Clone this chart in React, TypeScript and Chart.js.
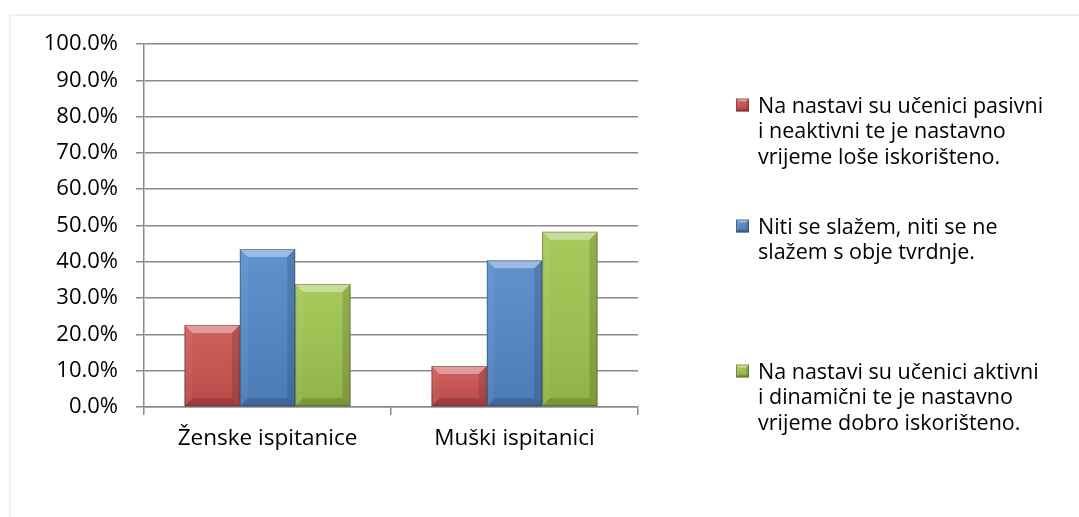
import React, { useEffect, useRef } from "react";
import { Chart, registerables } from "chart.js";

Chart.register(...registerables);

// ---- data ----
const categories = ["Ženske ispitanice", "Muški ispitanici"];
const seriesNames = [
  "Na nastavi su učenici pasivni i neaktivni te je nastavno vrijeme loše iskorišteno.",
  "Niti se slažem, niti se ne slažem s obje tvrdnje.",
  "Na nastavi su učenici aktivni i dinamični te je nastavno vrijeme dobro iskorišteno.",
];
const pasivniValues = [22.6, 11.3];
const neutralniValues = [43.5, 40.4];
const aktivniValues = [33.9, 48.3];
const legendLines = [
  ["Na nastavi su učenici pasivni", "i neaktivni te je nastavno", "vrijeme loše iskorišteno."],
  ["Niti se slažem, niti se ne", "slažem s obje tvrdnje."],
  ["Na nastavi su učenici aktivni", "i dinamični te je nastavno", "vrijeme dobro iskorišteno."],
];
const yMin = 0;
const yMax = 100;
const yStep = 10;

// ---- styles ----
const FONT = "'Open Sans', 'Noto Sans', sans-serif";
const FONT_SIZE = 22;
const LEGEND_FONT_SIZE = 21.5;
const COLORS = ["#CC5250", "#5388C9", "#A0C54E"];
const GRID = "#8a8a8a";

function poly(ctx: CanvasRenderingContext2D, pts: number[][], fill: string) {
  ctx.beginPath();
  ctx.moveTo(pts[0][0], pts[0][1]);
  for (let i = 1; i < pts.length; i++) ctx.lineTo(pts[i][0], pts[i][1]);
  ctx.closePath();
  ctx.fillStyle = fill;
  ctx.fill();
}

function bevel(ctx: CanvasRenderingContext2D, l: number, t: number, w: number, h: number, size: number) {
  const r = l + w;
  const b = t + h;
  const bv = Math.max(1, Math.min(size, h / 3, w / 4));
  const g = ctx.createLinearGradient(0, t, 0, b);
  g.addColorStop(0, "rgba(255,255,255,0.08)");
  g.addColorStop(1, "rgba(0,0,0,0.10)");
  ctx.fillStyle = g;
  ctx.fillRect(l, t, w, h);
  poly(ctx, [[l, t], [r, t], [r - bv, t + bv], [l + bv, t + bv]], "rgba(255,255,255,0.38)");
  poly(ctx, [[l, t], [l + bv, t + bv], [l + bv, b - bv], [l, b]], "rgba(255,255,255,0.05)");
  poly(ctx, [[r, t], [r - bv, t + bv], [r - bv, b - bv], [r, b]], "rgba(0,0,0,0.13)");
  poly(ctx, [[l, b], [l + bv, b - bv], [r - bv, b - bv], [r, b]], "rgba(0,0,0,0.16)");
  ctx.strokeStyle = "rgba(0,0,0,0.28)";
  ctx.lineWidth = 1;
  ctx.strokeRect(l + 0.5, t + 0.5, w - 1, h - 1);
}

const framePlugin = {
  id: "frame",
  beforeDraw(chart: any) {
    const ctx = chart.ctx as CanvasRenderingContext2D;
    ctx.save();
    ctx.fillStyle = "#ffffff";
    ctx.fillRect(0, 0, chart.width, chart.height);
    ctx.strokeStyle = "#ececec";
    ctx.lineWidth = 1.5;
    ctx.strokeRect(10, 15, chart.width + 20, chart.height + 20);
    ctx.restore();
  },
};

const bevelPlugin = {
  id: "bevel",
  afterDatasetsDraw(chart: any) {
    const ctx = chart.ctx as CanvasRenderingContext2D;
    chart.data.datasets.forEach((_ds: any, i: number) => {
      const meta = chart.getDatasetMeta(i);
      meta.data.forEach((el: any) => {
        const p = el.getProps(["x", "y", "base", "width"], true);
        const l = p.x - p.width / 2;
        const t = Math.min(p.y, p.base);
        const h = Math.abs(p.base - p.y);
        ctx.save();
        bevel(ctx, l, t, p.width, h, 8);
        ctx.restore();
      });
    });
  },
};

const legendPlugin = {
  id: "sideLegend",
  afterDraw(chart: any) {
    const ctx = chart.ctx as CanvasRenderingContext2D;
    const textX = 758;
    const markX = 736;
    const mark = 13;
    const lineH = 25.6;
    const firstBaselines = [112.5, 233.5, 378.5];
    ctx.save();
    ctx.font = `${LEGEND_FONT_SIZE}px ${FONT}`;
    ctx.textBaseline = "alphabetic";
    ctx.textAlign = "left";
    legendLines.forEach((lines, i) => {
      const base = firstBaselines[i];
      const my = base - 14;
      ctx.fillStyle = COLORS[i];
      ctx.fillRect(markX, my, mark, mark);
      bevel(ctx, markX, my, mark, mark, 3);
      ctx.fillStyle = "#000";
      lines.forEach((ln, j) => ctx.fillText(ln, textX, base + j * lineH));
    });
    ctx.restore();
  },
};

export default function App() {
  const ref = useRef<HTMLCanvasElement | null>(null);

  useEffect(() => {
    if (!ref.current) return;
    const font = { family: FONT, size: FONT_SIZE };
    const chart = new Chart(ref.current, {
      type: "bar",
      data: {
        labels: categories,
        datasets: [
          { label: seriesNames[0], data: pasivniValues, backgroundColor: COLORS[0] },
          { label: seriesNames[1], data: neutralniValues, backgroundColor: COLORS[1] },
          { label: seriesNames[2], data: aktivniValues, backgroundColor: COLORS[2] },
        ],
      },
      options: {
        responsive: false,
        animation: false,
        events: [],
        layout: { padding: { top: 44, right: 441, bottom: 0, left: 0 } },
        datasets: { bar: { categoryPercentage: 0.672, barPercentage: 1 } },
        plugins: { legend: { display: false }, tooltip: { enabled: false } },
        scales: {
          x: {
            offset: true,
            grid: { display: true, drawOnChartArea: false, drawTicks: true, tickLength: 8, color: GRID, lineWidth: 1.5, offset: true },
            border: { display: true, color: GRID, width: 1.5 },
            ticks: { font: { family: FONT, size: 22.5 }, color: "#000", padding: 10, maxRotation: 0, autoSkip: false },
            afterFit: (s: any) => {
              s.height = 110;
            },
          },
          y: {
            min: yMin,
            max: yMax,
            ticks: {
              stepSize: yStep,
              font,
              color: "#000",
              padding: 18,
              callback: (v: any) => Number(v).toFixed(1) + "%",
            },
            grid: { color: GRID, lineWidth: 1.5, tickLength: 8, drawTicks: true },
            border: { display: true, color: GRID, width: 1.5 },
            afterFit: (s: any) => {
              s.width = 144;
            },
          },
        },
      } as any,
      plugins: [framePlugin, bevelPlugin, legendPlugin],
    });
    return () => chart.destroy();
  }, []);

  return (
    <div style={{ position: "fixed", left: 0, top: 0, width: 1079, height: 517, background: "#fff" }}>
      <canvas ref={ref} width={1079} height={517} style={{ display: "block", width: 1079, height: 517 }} />
    </div>
  );
}
